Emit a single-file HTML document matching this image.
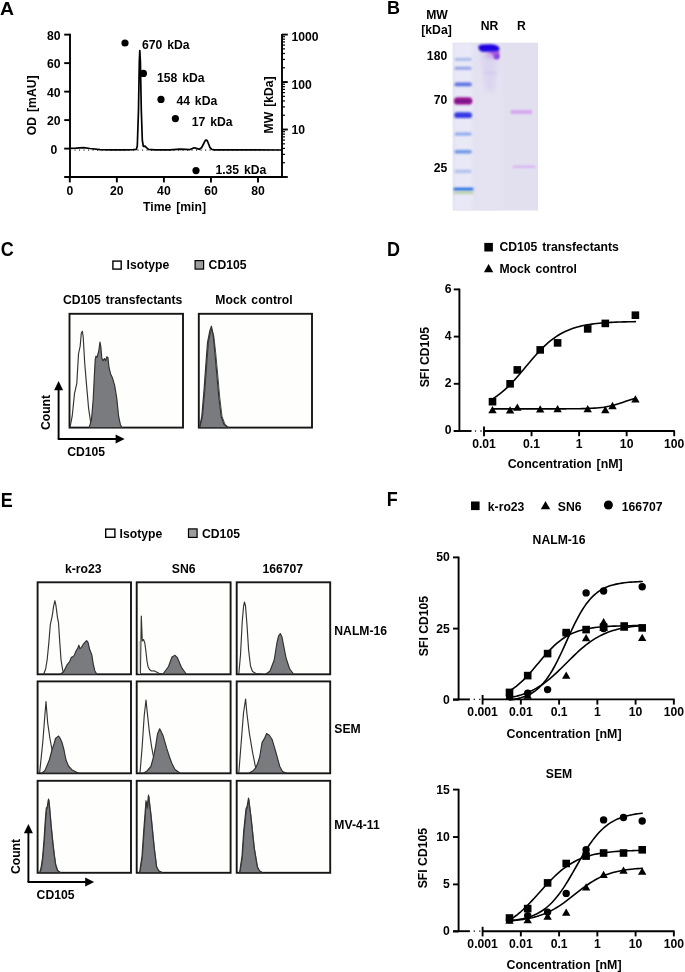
<!DOCTYPE html>
<html><head><meta charset="utf-8"><style>
html,body{margin:0;padding:0;background:#fff;}
svg{display:block;will-change:transform;}
text{font-family:"Liberation Sans",sans-serif;font-weight:bold;fill:#000;word-spacing:1.5px;}
</style></head><body>
<svg width="685" height="972" viewBox="0 0 685 972">
<defs>
<filter id="b1" x="-20%" y="-150%" width="140%" height="400%"><feGaussianBlur stdDeviation="0.85"/></filter>
<clipPath id="gelclip"><rect x="452.5" y="42.4" width="85.5" height="168.3"/></clipPath>
<filter id="b2" x="-20%" y="-20%" width="140%" height="140%"><feGaussianBlur stdDeviation="2"/></filter>
<filter id="b3" x="-50%" y="-20%" width="200%" height="140%"><feGaussianBlur stdDeviation="2.5"/></filter>
</defs>
<rect width="685" height="972" fill="#fff"/>
<text transform="translate(0.1 14.7) scale(1.08 1.0)" font-size="18">A</text>
<line x1="70.00" y1="33.84" x2="70.00" y2="177.80" stroke="#000" stroke-width="1.9" />
<line x1="64.20" y1="34.64" x2="70.00" y2="34.64" stroke="#000" stroke-width="1.9" />
<text transform="translate(60.60 39.74) scale(1 1.04)" text-anchor="end" font-size="12.2" >80</text>
<line x1="64.20" y1="63.13" x2="70.00" y2="63.13" stroke="#000" stroke-width="1.9" />
<text transform="translate(60.60 68.23) scale(1 1.04)" text-anchor="end" font-size="12.2" >60</text>
<line x1="64.20" y1="91.62" x2="70.00" y2="91.62" stroke="#000" stroke-width="1.9" />
<text transform="translate(60.60 96.72) scale(1 1.04)" text-anchor="end" font-size="12.2" >40</text>
<line x1="64.20" y1="120.11" x2="70.00" y2="120.11" stroke="#000" stroke-width="1.9" />
<text transform="translate(60.60 125.21) scale(1 1.04)" text-anchor="end" font-size="12.2" >20</text>
<line x1="64.20" y1="148.60" x2="70.00" y2="148.60" stroke="#000" stroke-width="1.9" />
<text transform="translate(57.20 153.70) scale(1 1.04)" text-anchor="end" font-size="12.2" >0</text>
<line x1="64.20" y1="177.00" x2="282.80" y2="177.00" stroke="#000" stroke-width="1.9" />
<line x1="69.80" y1="177.00" x2="69.80" y2="182.40" stroke="#000" stroke-width="1.9" />
<text transform="translate(69.80 195.30) scale(1 1.04)" text-anchor="middle" font-size="12.2" >0</text>
<line x1="116.85" y1="177.00" x2="116.85" y2="182.40" stroke="#000" stroke-width="1.9" />
<text transform="translate(116.85 195.30) scale(1 1.04)" text-anchor="middle" font-size="12.2" >20</text>
<line x1="163.90" y1="177.00" x2="163.90" y2="182.40" stroke="#000" stroke-width="1.9" />
<text transform="translate(163.90 195.30) scale(1 1.04)" text-anchor="middle" font-size="12.2" >40</text>
<line x1="210.95" y1="177.00" x2="210.95" y2="182.40" stroke="#000" stroke-width="1.9" />
<text transform="translate(210.95 195.30) scale(1 1.04)" text-anchor="middle" font-size="12.2" >60</text>
<line x1="258.00" y1="177.00" x2="258.00" y2="182.40" stroke="#000" stroke-width="1.9" />
<text transform="translate(258.00 195.30) scale(1 1.04)" text-anchor="middle" font-size="12.2" >80</text>
<text transform="translate(174.50 211.00) scale(1 1.04)" text-anchor="middle" font-size="12.2" >Time [min]</text>
<text transform="translate(36.40 105.30) rotate(-90) scale(1 1.04)" text-anchor="middle" font-size="12.2">OD [mAU]</text>
<line x1="282.00" y1="34.00" x2="282.00" y2="177.80" stroke="#000" stroke-width="1.9" />
<line x1="282.00" y1="162.71" x2="285.00" y2="162.71" stroke="#000" stroke-width="1.2" />
<line x1="282.00" y1="154.35" x2="285.00" y2="154.35" stroke="#000" stroke-width="1.2" />
<line x1="282.00" y1="148.42" x2="285.00" y2="148.42" stroke="#000" stroke-width="1.2" />
<line x1="282.00" y1="143.82" x2="285.00" y2="143.82" stroke="#000" stroke-width="1.2" />
<line x1="282.00" y1="140.06" x2="285.00" y2="140.06" stroke="#000" stroke-width="1.2" />
<line x1="282.00" y1="136.88" x2="285.00" y2="136.88" stroke="#000" stroke-width="1.2" />
<line x1="282.00" y1="134.13" x2="285.00" y2="134.13" stroke="#000" stroke-width="1.2" />
<line x1="282.00" y1="131.70" x2="285.00" y2="131.70" stroke="#000" stroke-width="1.2" />
<line x1="282.00" y1="115.24" x2="285.00" y2="115.24" stroke="#000" stroke-width="1.2" />
<line x1="282.00" y1="106.88" x2="285.00" y2="106.88" stroke="#000" stroke-width="1.2" />
<line x1="282.00" y1="100.95" x2="285.00" y2="100.95" stroke="#000" stroke-width="1.2" />
<line x1="282.00" y1="96.35" x2="285.00" y2="96.35" stroke="#000" stroke-width="1.2" />
<line x1="282.00" y1="92.59" x2="285.00" y2="92.59" stroke="#000" stroke-width="1.2" />
<line x1="282.00" y1="89.41" x2="285.00" y2="89.41" stroke="#000" stroke-width="1.2" />
<line x1="282.00" y1="86.66" x2="285.00" y2="86.66" stroke="#000" stroke-width="1.2" />
<line x1="282.00" y1="84.23" x2="285.00" y2="84.23" stroke="#000" stroke-width="1.2" />
<line x1="282.00" y1="67.77" x2="285.00" y2="67.77" stroke="#000" stroke-width="1.2" />
<line x1="282.00" y1="59.41" x2="285.00" y2="59.41" stroke="#000" stroke-width="1.2" />
<line x1="282.00" y1="53.48" x2="285.00" y2="53.48" stroke="#000" stroke-width="1.2" />
<line x1="282.00" y1="48.88" x2="285.00" y2="48.88" stroke="#000" stroke-width="1.2" />
<line x1="282.00" y1="45.12" x2="285.00" y2="45.12" stroke="#000" stroke-width="1.2" />
<line x1="282.00" y1="41.94" x2="285.00" y2="41.94" stroke="#000" stroke-width="1.2" />
<line x1="282.00" y1="39.19" x2="285.00" y2="39.19" stroke="#000" stroke-width="1.2" />
<line x1="282.00" y1="36.76" x2="285.00" y2="36.76" stroke="#000" stroke-width="1.2" />
<line x1="282.00" y1="177.00" x2="287.80" y2="177.00" stroke="#000" stroke-width="1.9" />
<line x1="282.00" y1="129.53" x2="287.80" y2="129.53" stroke="#000" stroke-width="1.9" />
<text transform="translate(291.40 133.90) scale(1 1.04)" text-anchor="start" font-size="12.2" >10</text>
<line x1="282.00" y1="82.06" x2="287.80" y2="82.06" stroke="#000" stroke-width="1.9" />
<text transform="translate(291.40 89.00) scale(1 1.04)" text-anchor="start" font-size="12.2" >100</text>
<line x1="282.00" y1="34.59" x2="287.80" y2="34.59" stroke="#000" stroke-width="1.9" />
<text transform="translate(291.40 41.40) scale(1 1.04)" text-anchor="start" font-size="12.2" >1000</text>
<text transform="translate(272.60 104.90) rotate(-90) scale(1 1.04)" text-anchor="middle" font-size="12.2">MW [kDa]</text>
<line x1="70.00" y1="150.10" x2="282.00" y2="150.10" stroke="#333" stroke-width="1.2" stroke-dasharray="1.1 3.4"/>
<path d="M70.00,148.30 L76.00,148.20 L83.70,147.60 L90.00,148.50 L100.00,149.60 L110.00,149.90 L125.00,149.90 L133.00,149.70 L136.40,149.30 L137.30,146.00 L138.50,110.00 L139.30,62.00 L139.80,50.60 L140.40,62.00 L141.30,110.00 L142.30,140.00 L143.30,146.30 L145.00,146.20 L146.50,147.60 L148.50,149.30 L155.00,149.90 L170.00,149.90 L180.00,149.20 L186.00,149.40 L190.00,149.60 L192.50,148.40 L194.50,147.80 L197.00,148.60 L199.30,149.30 L201.50,147.80 L203.50,144.00 L205.20,140.60 L206.20,140.00 L207.30,140.80 L208.60,144.00 L210.00,147.60 L211.50,149.20 L214.00,149.90 L282.00,150.00" stroke="#000" stroke-width="1.7" fill="none" stroke-linejoin="round"/>
<circle cx="125.00" cy="43.00" r="3.6" fill="#000"/>
<text transform="translate(142.00 48.60) scale(1 1.04)" text-anchor="start" font-size="12.2" >670 kDa</text>
<circle cx="143.40" cy="73.40" r="3.6" fill="#000"/>
<text transform="translate(157.00 82.00) scale(1 1.04)" text-anchor="start" font-size="12.2" >158 kDa</text>
<circle cx="161.00" cy="99.40" r="3.6" fill="#000"/>
<text transform="translate(176.40 104.50) scale(1 1.04)" text-anchor="start" font-size="12.2" >44 kDa</text>
<circle cx="175.40" cy="118.60" r="3.6" fill="#000"/>
<text transform="translate(191.80 125.50) scale(1 1.04)" text-anchor="start" font-size="12.2" >17 kDa</text>
<circle cx="196.00" cy="170.60" r="3.6" fill="#000"/>
<text transform="translate(215.40 174.00) scale(1 1.04)" text-anchor="start" font-size="12.2" >1.35 kDa</text>
<text transform="translate(386.90 13.90) scale(1 1.03)" text-anchor="start" font-size="18" >B</text>
<text transform="translate(437.00 19.00) scale(1 1.04)" text-anchor="middle" font-size="12.2" >MW</text>
<text transform="translate(436.50 34.40) scale(1 1.04)" text-anchor="middle" font-size="12.2" >[kDa]</text>
<text transform="translate(489.60 30.00) scale(1 1.04)" text-anchor="middle" font-size="12.2" >NR</text>
<text transform="translate(521.40 30.00) scale(1 1.04)" text-anchor="middle" font-size="12.2" >R</text>
<text transform="translate(447.20 60.00) scale(1 1.04)" text-anchor="end" font-size="12.2" >180</text>
<text transform="translate(447.20 104.40) scale(1 1.04)" text-anchor="end" font-size="12.2" >70</text>
<text transform="translate(447.20 171.60) scale(1 1.04)" text-anchor="end" font-size="12.2" >25</text>
<g clip-path="url(#gelclip)"><rect x="452.5" y="42.4" width="85.5" height="168.3" fill="#e2e0ef"/><rect x="453.5" y="42.4" width="20" height="168.3" fill="#e8e8f6" filter="url(#b2)"/><rect x="476" y="42.4" width="26" height="168.3" fill="#e5e3f1" filter="url(#b2)"/><rect x="454.8" y="57.90" width="16.80000000000001" height="2.8" rx="1.40" fill="#a6b8ea" opacity="1" filter="url(#b1)"/><rect x="454.6" y="66.65" width="17.0" height="3.1" rx="1.55" fill="#94a2e6" opacity="1" filter="url(#b1)"/><rect x="454.4" y="82.50" width="17.400000000000034" height="3.8" rx="1.90" fill="#5b6fe2" opacity="1" filter="url(#b1)"/><rect x="454.0" y="97.20" width="18.19999999999999" height="7.4" rx="3.70" fill="#a01a98" opacity="1" filter="url(#b1)"/><rect x="455.0" y="99.60" width="16.399999999999977" height="3.2" rx="1.60" fill="#7c1086" opacity="1" filter="url(#b1)"/><rect x="454.2" y="112.30" width="17.80000000000001" height="5.8" rx="2.90" fill="#3438e4" opacity="1" filter="url(#b1)"/><rect x="454.6" y="132.40" width="17.0" height="3.0" rx="1.50" fill="#8aa8ec" opacity="1" filter="url(#b1)"/><rect x="454.4" y="150.10" width="17.400000000000034" height="3.4" rx="1.70" fill="#6c94e8" opacity="1" filter="url(#b1)"/><rect x="454.6" y="169.80" width="17.0" height="3.2" rx="1.60" fill="#b0c0ee" opacity="1" filter="url(#b1)"/><rect x="453.4" y="187.80" width="20.0" height="2.8" rx="1.40" fill="#1866e2" opacity="1" filter="url(#b1)"/><rect x="453.4" y="191.60" width="20.0" height="2.2" rx="1.10" fill="#a8c68e" opacity="0.85" filter="url(#b1)"/><ellipse cx="492" cy="54.6" rx="6.5" ry="3.2" fill="#cc86e6" opacity="0.75" filter="url(#b2)"/><path d="M489,51.3 L499,50.8 L499.2,56.5 Q498.5,59 496.2,59 Q493.8,58.6 493.5,56 Q492.5,53.2 489,52.6 Z" fill="#b44ade" filter="url(#b1)"/><ellipse cx="496.4" cy="56.4" rx="2.6" ry="2.5" fill="#8a36dc" filter="url(#b1)"/><ellipse cx="496.8" cy="56.7" rx="1.6" ry="1.6" fill="#5a2ee6" filter="url(#b1)"/><path d="M478.3,47.2 Q478.4,44.6 483,44.5 L490,44.3 Q497.5,44.6 499.3,47.6 L499.2,50.6 Q498,51.8 495,51.7 L484,52.1 Q480.5,51.9 479.4,50.2 Z" fill="#1d02e2" filter="url(#b1)"/><path d="M481,52 L498,52 L498,60 L494,92 L486,92 L481,60 Z" fill="#c4b0ea" opacity="0.28" filter="url(#b3)"/><rect x="483" y="72.20" width="14" height="1.2" rx="0.60" fill="#cdb6ea" opacity="0.55" filter="url(#b1)"/><rect x="510.2" y="110.20" width="22.19999999999999" height="3.6" rx="1.80" fill="#d6a2ec" opacity="1" filter="url(#b1)"/><rect x="512.6" y="165.50" width="23.0" height="2.6" rx="1.30" fill="#d9b2f2" opacity="1" filter="url(#b1)"/></g>
<text transform="translate(0.80 255.50) scale(1 1.09)" text-anchor="start" font-size="18" >C</text>
<rect x="112.9" y="261.1" width="8.3" height="8.0" fill="#fff" stroke="#000" stroke-width="1.4"/>
<text transform="translate(126.60 269.00) scale(1 1.04)" text-anchor="start" font-size="12.2" >Isotype</text>
<rect x="195.1" y="260.6" width="8.5" height="8.5" fill="#9d9d9d" stroke="#000" stroke-width="1.2"/>
<text transform="translate(208.60 269.00) scale(1 1.04)" text-anchor="start" font-size="12.2" >CD105</text>
<text transform="translate(62.90 304.00) scale(1 1.04)" text-anchor="start" font-size="12.2" >CD105 transfectants</text>
<text transform="translate(215.30 303.50) scale(1 1.04)" text-anchor="start" font-size="12.2" >Mock control</text>
<rect x="69.50" y="313.80" width="113.50" height="113.80" fill="#fefefc" stroke="#161616" stroke-width="1.9"/>
<rect x="198.80" y="313.80" width="113.20" height="113.80" fill="#fefefc" stroke="#161616" stroke-width="1.9"/>
<path d="M70.00,427.50 L72.20,416.20 L74.50,393.60 L76.80,383.40 L78.50,354.00 L80.20,346.00 L81.30,333.00 L82.40,331.30 L83.20,337.00 L84.70,363.00 L86.40,383.40 L88.60,408.30 L90.30,419.60 L91.50,427.50" stroke="#333" stroke-width="1.15" fill="none" stroke-linejoin="round"/>
<path d="M89.20,427.50 L91.50,419.60 L93.20,399.20 L94.30,376.60 L95.20,359.60 L96.00,356.20 L97.10,357.40 L98.80,350.60 L100.00,342.00 L100.90,347.20 L101.70,357.40 L102.80,360.80 L104.50,358.50 L105.60,360.80 L106.80,356.80 L107.90,357.40 L109.00,367.50 L110.70,374.30 L112.40,377.70 L114.70,385.70 L116.90,399.20 L118.60,416.20 L120.30,424.20 L121.70,427.50 Z" stroke="#303030" stroke-width="1.15" fill="#7a7b7e" stroke-linejoin="round"/>
<path d="M199.50,427.60 L201.80,416.30 L204.00,390.30 L206.30,358.50 L207.50,342.70 L209.70,331.30 L211.40,326.20 L213.10,334.70 L214.80,351.70 L216.50,371.00 L218.80,397.00 L221.10,416.30 L223.90,424.20 L227.90,427.60 Z" stroke="#303030" stroke-width="1.15" fill="#7a7b7e" stroke-linejoin="round"/>
<path d="M199.80,427.60 L202.60,416.30 L204.90,390.30 L207.20,358.50 L208.40,343.50 L210.40,333.00 L211.90,329.50 L213.80,336.00 L215.70,352.70 L217.40,371.00 L219.70,397.00 L222.00,416.30 L225.00,424.40 L229.00,427.60" stroke="#333" stroke-width="0.9" fill="none" stroke-linejoin="round"/>
<line x1="58.60" y1="439.00" x2="58.60" y2="389.80" stroke="#000" stroke-width="1.9" />
<path d="M54.10,390.30 L63.10,390.30 L58.60,381.10 Z" fill="#000"/>
<line x1="57.80" y1="439.00" x2="116.10" y2="439.00" stroke="#000" stroke-width="1.9" />
<path d="M115.60,434.50 L115.60,443.50 L124.60,439.00 Z" fill="#000"/>
<text transform="translate(50.40 412.50) rotate(-90) scale(1 1.04)" text-anchor="middle" font-size="12.2">Count</text>
<text transform="translate(67.20 455.60) scale(1 1.04)" text-anchor="start" font-size="12.2" >CD105</text>
<text transform="translate(386.90 255.50) scale(1 1.09)" text-anchor="start" font-size="18" >D</text>
<rect x="484.30" y="242.90" width="8.6" height="8.6" fill="#000"/>
<text transform="translate(499.40 251.40) scale(1 1.04)" text-anchor="start" font-size="12.2" >CD105 transfectants</text>
<path d="M483.90,272.29 L493.30,272.29 L488.60,264.11 Z" fill="#000"/>
<text transform="translate(499.40 272.50) scale(1 1.04)" text-anchor="start" font-size="12.2" >Mock control</text>
<line x1="459.40" y1="288.60" x2="459.40" y2="431.80" stroke="#000" stroke-width="1.9" />
<line x1="453.80" y1="289.40" x2="459.40" y2="289.40" stroke="#000" stroke-width="1.9" />
<text transform="translate(451.60 292.50) scale(1 1.04)" text-anchor="end" font-size="12.2" >6</text>
<line x1="453.80" y1="336.60" x2="459.40" y2="336.60" stroke="#000" stroke-width="1.9" />
<text transform="translate(451.60 339.70) scale(1 1.04)" text-anchor="end" font-size="12.2" >4</text>
<line x1="453.80" y1="383.80" x2="459.40" y2="383.80" stroke="#000" stroke-width="1.9" />
<text transform="translate(451.60 386.90) scale(1 1.04)" text-anchor="end" font-size="12.2" >2</text>
<line x1="453.80" y1="431.00" x2="459.40" y2="431.00" stroke="#000" stroke-width="1.9" />
<text transform="translate(451.60 434.10) scale(1 1.04)" text-anchor="end" font-size="12.2" >0</text>
<text transform="translate(428.90 357.20) rotate(-90) scale(1 1.04)" text-anchor="middle" font-size="12.2" style="word-spacing:0px">SFI CD105</text>
<line x1="453.80" y1="431.00" x2="471.50" y2="431.00" stroke="#000" stroke-width="1.9" />
<line x1="474.90" y1="431.00" x2="476.10" y2="431.00" stroke="#000" stroke-width="1.3" />
<line x1="480.40" y1="431.00" x2="481.60" y2="431.00" stroke="#000" stroke-width="1.3" />
<line x1="484.00" y1="431.00" x2="674.80" y2="431.00" stroke="#000" stroke-width="1.9" />
<line x1="484.00" y1="426.60" x2="484.00" y2="436.20" stroke="#000" stroke-width="1.9" />
<text transform="translate(484.00 448.10) scale(1 1.04)" text-anchor="middle" font-size="12.2" >0.01</text>
<line x1="531.55" y1="431.00" x2="531.55" y2="436.20" stroke="#000" stroke-width="1.9" />
<text transform="translate(531.55 448.10) scale(1 1.04)" text-anchor="middle" font-size="12.2" >0.1</text>
<line x1="579.10" y1="431.00" x2="579.10" y2="436.20" stroke="#000" stroke-width="1.9" />
<text transform="translate(579.10 448.10) scale(1 1.04)" text-anchor="middle" font-size="12.2" >1</text>
<line x1="626.65" y1="431.00" x2="626.65" y2="436.20" stroke="#000" stroke-width="1.9" />
<text transform="translate(626.65 448.10) scale(1 1.04)" text-anchor="middle" font-size="12.2" >10</text>
<line x1="674.20" y1="431.00" x2="674.20" y2="436.20" stroke="#000" stroke-width="1.9" />
<text transform="translate(674.20 448.10) scale(1 1.04)" text-anchor="middle" font-size="12.2" >100</text>
<text transform="translate(565.20 468.40) scale(1 1.04)" text-anchor="middle" font-size="12.4" >Concentration [nM]</text>
<path d="M492.50,398.93 L494.92,397.40 L497.34,395.73 L499.77,393.92 L502.19,391.96 L504.61,389.87 L507.03,387.64 L509.45,385.27 L511.88,382.78 L514.30,380.18 L516.72,377.48 L519.14,374.69 L521.56,371.85 L523.99,368.97 L526.41,366.07 L528.83,363.17 L531.25,360.31 L533.67,357.50 L536.10,354.76 L538.52,352.12 L540.94,349.58 L543.36,347.16 L545.78,344.87 L548.21,342.72 L550.63,340.70 L553.05,338.84 L555.47,337.11 L557.89,335.52 L560.32,334.06 L562.74,332.73 L565.16,331.52 L567.58,330.43 L570.01,329.44 L572.43,328.55 L574.85,327.75 L577.27,327.04 L579.69,326.40 L582.12,325.82 L584.54,325.31 L586.96,324.86 L589.38,324.46 L591.80,324.10 L594.23,323.78 L596.65,323.50 L599.07,323.25 L601.49,323.03 L603.91,322.83 L606.34,322.66 L608.76,322.51 L611.18,322.37 L613.60,322.25 L616.02,322.15 L618.45,322.06 L620.87,321.97 L623.29,321.90 L625.71,321.84 L628.13,321.78 L630.56,321.73 L632.98,321.69 L635.40,321.65" stroke="#000" stroke-width="1.6" fill="none" stroke-linejoin="round" stroke-linecap="round"/>
<path d="M492.50,408.88 L494.92,408.88 L497.34,408.88 L499.77,408.88 L502.19,408.88 L504.61,408.88 L507.03,408.88 L509.45,408.88 L511.88,408.88 L514.30,408.88 L516.72,408.88 L519.14,408.88 L521.56,408.88 L523.99,408.88 L526.41,408.88 L528.83,408.88 L531.25,408.88 L533.67,408.88 L536.10,408.88 L538.52,408.87 L540.94,408.87 L543.36,408.87 L545.78,408.87 L548.21,408.87 L550.63,408.87 L553.05,408.86 L555.47,408.86 L557.89,408.86 L560.32,408.85 L562.74,408.84 L565.16,408.83 L567.58,408.82 L570.01,408.81 L572.43,408.79 L574.85,408.76 L577.27,408.73 L579.69,408.70 L582.12,408.65 L584.54,408.59 L586.96,408.51 L589.38,408.42 L591.80,408.30 L594.23,408.16 L596.65,407.98 L599.07,407.76 L601.49,407.49 L603.91,407.17 L606.34,406.78 L608.76,406.33 L611.18,405.80 L613.60,405.19 L616.02,404.51 L618.45,403.77 L620.87,402.98 L623.29,402.16 L625.71,401.32 L628.13,400.50 L630.56,399.71 L632.98,398.97 L635.40,398.30" stroke="#000" stroke-width="1.6" fill="none" stroke-linejoin="round" stroke-linecap="round"/>
<rect x="488.70" y="397.90" width="7.6" height="7.6" fill="#000"/>
<rect x="506.30" y="380.00" width="7.6" height="7.6" fill="#000"/>
<rect x="513.50" y="366.10" width="7.6" height="7.6" fill="#000"/>
<rect x="536.40" y="346.10" width="7.6" height="7.6" fill="#000"/>
<rect x="553.80" y="339.10" width="7.6" height="7.6" fill="#000"/>
<rect x="583.90" y="325.10" width="7.6" height="7.6" fill="#000"/>
<rect x="601.50" y="319.60" width="7.6" height="7.6" fill="#000"/>
<rect x="631.60" y="311.40" width="7.6" height="7.6" fill="#000"/>
<path d="M488.30,413.25 L496.70,413.25 L492.50,405.95 Z" fill="#000"/>
<path d="M505.90,413.45 L514.30,413.45 L510.10,406.15 Z" fill="#000"/>
<path d="M513.10,410.85 L521.50,410.85 L517.30,403.55 Z" fill="#000"/>
<path d="M536.00,412.55 L544.40,412.55 L540.20,405.25 Z" fill="#000"/>
<path d="M553.40,412.25 L561.80,412.25 L557.60,404.95 Z" fill="#000"/>
<path d="M583.50,412.25 L591.90,412.25 L587.70,404.95 Z" fill="#000"/>
<path d="M601.10,413.25 L609.50,413.25 L605.30,405.95 Z" fill="#000"/>
<path d="M608.30,409.15 L616.70,409.15 L612.50,401.85 Z" fill="#000"/>
<path d="M631.20,402.45 L639.60,402.45 L635.40,395.15 Z" fill="#000"/>
<text transform="translate(0.70 506.80) scale(1 1.09)" text-anchor="start" font-size="18" >E</text>
<rect x="105.7" y="529.1" width="9.2" height="8.2" fill="#fff" stroke="#000" stroke-width="1.4"/>
<text transform="translate(119.60 537.60) scale(1 1.04)" text-anchor="start" font-size="12.2" >Isotype</text>
<rect x="188.5" y="528.9" width="8.6" height="8.5" fill="#9d9d9d" stroke="#000" stroke-width="1.2"/>
<text transform="translate(202.00 537.60) scale(1 1.04)" text-anchor="start" font-size="12.2" >CD105</text>
<text transform="translate(83.20 573.00) scale(1 1.04)" text-anchor="middle" font-size="12.2" >k-ro23</text>
<text transform="translate(183.60 573.00) scale(1 1.04)" text-anchor="middle" font-size="12.2" >SN6</text>
<text transform="translate(282.80 573.00) scale(1 1.04)" text-anchor="middle" font-size="12.2" >166707</text>
<rect x="37.60" y="582.30" width="93.40" height="92.00" fill="#fefefc" stroke="#161616" stroke-width="1.9"/>
<rect x="37.60" y="681.40" width="93.40" height="91.90" fill="#fefefc" stroke="#161616" stroke-width="1.9"/>
<rect x="37.60" y="780.80" width="93.40" height="92.00" fill="#fefefc" stroke="#161616" stroke-width="1.9"/>
<rect x="136.70" y="582.30" width="93.90" height="92.00" fill="#fefefc" stroke="#161616" stroke-width="1.9"/>
<rect x="136.70" y="681.40" width="93.90" height="91.90" fill="#fefefc" stroke="#161616" stroke-width="1.9"/>
<rect x="136.70" y="780.80" width="93.90" height="92.00" fill="#fefefc" stroke="#161616" stroke-width="1.9"/>
<rect x="236.70" y="582.30" width="93.50" height="92.00" fill="#fefefc" stroke="#161616" stroke-width="1.9"/>
<rect x="236.70" y="681.40" width="93.50" height="91.90" fill="#fefefc" stroke="#161616" stroke-width="1.9"/>
<rect x="236.70" y="780.80" width="93.50" height="92.00" fill="#fefefc" stroke="#161616" stroke-width="1.9"/>
<text transform="translate(334.30 634.80) scale(1 1.04)" text-anchor="start" font-size="12.2" >NALM-16</text>
<text transform="translate(334.30 733.00) scale(1 1.04)" text-anchor="start" font-size="12.2" >SEM</text>
<text transform="translate(334.30 829.00) scale(1 1.04)" text-anchor="start" font-size="12.2" >MV-4-11</text>
<path d="M43.70,674.30 L45.70,668.70 L47.20,659.50 L48.80,643.10 L50.30,624.70 L52.10,616.60 L53.60,606.40 L54.90,600.70 L55.90,605.30 L57.50,617.60 L58.50,622.70 L59.70,641.10 L61.00,659.50 L62.60,669.70 L64.10,674.30" stroke="#333" stroke-width="1.15" fill="none" stroke-linejoin="round"/>
<path d="M60.50,674.30 L63.60,671.70 L65.60,667.70 L67.20,664.60 L69.70,661.50 L71.30,657.40 L72.80,656.90 L74.30,655.40 L75.90,651.30 L77.90,647.70 L78.90,645.20 L79.90,648.80 L81.50,647.20 L83.00,644.70 L85.10,642.10 L86.60,640.60 L88.10,642.60 L89.60,649.30 L91.70,654.40 L93.20,663.60 L94.80,670.70 L96.80,674.30 Z" stroke="#303030" stroke-width="1.15" fill="#7a7b7e" stroke-linejoin="round"/>
<path d="M140.40,674.30 L141.30,616.00 L142.30,641.00 L143.50,639.50 L144.80,643.00 L146.00,652.00 L147.00,661.00 L148.00,666.50 L149.50,669.50 L151.50,671.00 L154.00,670.80 L156.00,671.80 L159.00,673.20 L163.00,674.30" stroke="#333" stroke-width="1.15" fill="none" stroke-linejoin="round"/>
<path d="M163.00,674.00 L168.50,666.50 L172.00,657.00 L175.00,655.30 L177.40,657.70 L181.40,667.30 L186.20,674.00 Z" stroke="#303030" stroke-width="1.15" fill="#7a7b7e" stroke-linejoin="round"/>
<path d="M238.80,674.00 L240.50,655.00 L242.20,622.00 L243.60,606.00 L244.50,602.00 L245.50,606.00 L247.00,625.00 L248.60,650.00 L250.50,666.00 L252.50,671.50 L256.00,673.50 L262.00,674.00" stroke="#333" stroke-width="1.15" fill="none" stroke-linejoin="round"/>
<path d="M266.00,674.00 L270.00,671.00 L274.20,660.00 L276.90,643.00 L278.60,636.00 L280.30,633.60 L282.00,637.00 L283.00,642.40 L286.20,658.50 L289.50,668.50 L293.40,674.00 Z" stroke="#303030" stroke-width="1.15" fill="#7a7b7e" stroke-linejoin="round"/>
<path d="M39.60,773.00 L42.80,742.00 L44.50,720.00 L46.00,701.50 L47.70,723.00 L50.00,739.00 L52.50,752.00 L55.00,763.00 L58.00,773.00" stroke="#333" stroke-width="1.15" fill="none" stroke-linejoin="round"/>
<path d="M42.00,773.00 L45.00,770.50 L49.30,760.00 L52.00,750.00 L54.00,744.00 L55.50,738.50 L56.50,737.60 L58.60,736.00 L60.00,738.00 L62.00,742.40 L64.00,750.00 L66.00,760.00 L68.50,766.00 L71.80,769.70 L78.20,773.00 Z" stroke="#303030" stroke-width="1.15" fill="#7a7b7e" stroke-linejoin="round"/>
<path d="M140.00,773.00 L142.00,749.00 L144.20,716.00 L146.00,700.00 L147.30,712.70 L149.30,731.20 L151.70,747.30 L153.80,758.50 L156.00,766.00 L159.00,773.00" stroke="#333" stroke-width="1.15" fill="none" stroke-linejoin="round"/>
<path d="M143.70,773.00 L147.00,771.00 L150.90,766.50 L153.50,757.00 L155.70,745.70 L157.50,734.00 L159.70,728.80 L162.90,735.20 L166.90,748.90 L169.50,757.00 L171.80,763.30 L175.00,769.50 L179.80,773.00 Z" stroke="#303030" stroke-width="1.15" fill="#7a7b7e" stroke-linejoin="round"/>
<path d="M238.80,773.00 L241.00,745.00 L243.50,713.00 L245.60,699.00 L246.90,713.50 L249.30,732.80 L252.50,752.00 L255.70,768.00 L258.00,773.00" stroke="#333" stroke-width="1.15" fill="none" stroke-linejoin="round"/>
<path d="M249.30,773.00 L253.00,770.80 L255.70,768.00 L257.80,763.00 L259.70,757.00 L261.00,749.00 L262.10,742.40 L264.50,738.40 L266.60,733.60 L269.30,735.20 L272.00,739.20 L275.80,752.00 L279.80,766.50 L282.50,771.50 L286.20,773.00 Z" stroke="#303030" stroke-width="1.15" fill="#7a7b7e" stroke-linejoin="round"/>
<path d="M39.60,872.60 L41.00,868.00 L42.50,858.00 L44.00,840.00 L45.30,820.00 L46.30,808.00 L47.30,806.50 L48.10,801.00 L48.60,799.00 L49.20,804.00 L49.80,811.00 L51.00,825.00 L52.50,840.00 L54.00,853.00 L55.50,864.00 L57.50,870.50 L60.50,872.60 Z" stroke="#303030" stroke-width="1.15" fill="#7a7b7e" stroke-linejoin="round"/>
<path d="M40.00,872.60 L41.40,869.50 L42.90,859.50 L44.40,841.50 L45.70,821.50 L46.70,809.50 L47.70,808.00 L48.50,802.50 L49.00,800.50 L49.60,805.50 L50.20,812.50 L51.40,826.50 L52.90,841.50 L54.40,854.50 L55.90,865.50 L57.90,870.50 L60.90,872.60" stroke="#333" stroke-width="0.8" fill="none" stroke-linejoin="round"/>
<path d="M139.60,872.60 L142.00,856.00 L143.70,831.20 L146.00,800.70 L147.20,807.00 L148.50,795.00 L150.90,815.00 L154.10,847.30 L156.50,866.50 L158.80,871.00 L162.10,872.60 Z" stroke="#303030" stroke-width="1.15" fill="#7a7b7e" stroke-linejoin="round"/>
<path d="M140.00,872.60 L142.40,857.50 L144.10,832.70 L146.40,802.20 L147.60,808.50 L148.90,796.50 L151.30,816.50 L154.50,848.80 L156.90,868.00 L159.20,871.00 L162.50,872.60" stroke="#333" stroke-width="0.8" fill="none" stroke-linejoin="round"/>
<path d="M239.60,872.60 L242.00,856.00 L243.70,831.20 L246.00,808.70 L247.20,806.00 L248.50,798.00 L250.90,816.80 L254.10,847.30 L257.30,866.50 L259.50,871.00 L262.10,872.60 Z" stroke="#303030" stroke-width="1.15" fill="#7a7b7e" stroke-linejoin="round"/>
<path d="M240.00,872.60 L242.40,857.50 L244.10,832.70 L246.40,810.20 L247.60,807.50 L248.90,799.50 L251.30,818.30 L254.50,848.80 L257.70,868.00 L259.90,871.00 L262.50,872.60" stroke="#333" stroke-width="0.8" fill="none" stroke-linejoin="round"/>
<rect x="138.4" y="641" width="1.7" height="33" fill="#d4d4d4"/>
<line x1="28.40" y1="882.00" x2="28.40" y2="832.70" stroke="#000" stroke-width="1.9" />
<path d="M23.90,833.20 L32.90,833.20 L28.40,824.00 Z" fill="#000"/>
<line x1="27.60" y1="882.00" x2="85.70" y2="882.00" stroke="#000" stroke-width="1.9" />
<path d="M85.20,877.50 L85.20,886.50 L94.20,882.00 Z" fill="#000"/>
<text transform="translate(19.50 856.50) rotate(-90) scale(1 1.04)" text-anchor="middle" font-size="12.2">Count</text>
<text transform="translate(36.60 899.40) scale(1 1.04)" text-anchor="start" font-size="12.2" >CD105</text>
<text transform="translate(386.70 506.40) scale(1 1.09)" text-anchor="start" font-size="18" >F</text>
<rect x="471.00" y="501.50" width="8.6" height="8.6" fill="#000"/>
<text transform="translate(487.80 511.00) scale(1 1.04)" text-anchor="start" font-size="12.2" >k-ro23</text>
<path d="M540.80,509.29 L550.20,509.29 L545.50,501.11 Z" fill="#000"/>
<text transform="translate(557.80 511.00) scale(1 1.04)" text-anchor="start" font-size="12.2" >SN6</text>
<circle cx="608.40" cy="505.00" r="4.5" fill="#000"/>
<text transform="translate(621.80 511.00) scale(1 1.04)" text-anchor="start" font-size="12.2" >166707</text>
<line x1="458.60" y1="556.60" x2="458.60" y2="700.20" stroke="#000" stroke-width="1.9" />
<line x1="453.00" y1="557.40" x2="458.60" y2="557.40" stroke="#000" stroke-width="1.9" />
<text transform="translate(449.80 561.30) scale(1 1.04)" text-anchor="end" font-size="12.2" >50</text>
<line x1="453.00" y1="628.60" x2="458.60" y2="628.60" stroke="#000" stroke-width="1.9" />
<text transform="translate(449.80 632.50) scale(1 1.04)" text-anchor="end" font-size="12.2" >25</text>
<line x1="453.00" y1="699.80" x2="458.60" y2="699.80" stroke="#000" stroke-width="1.9" />
<text transform="translate(449.80 703.70) scale(1 1.04)" text-anchor="end" font-size="12.2" >0</text>
<line x1="453.00" y1="699.40" x2="469.90" y2="699.40" stroke="#000" stroke-width="1.9" />
<line x1="473.70" y1="699.40" x2="474.90" y2="699.40" stroke="#000" stroke-width="1.3" />
<line x1="479.20" y1="699.40" x2="480.40" y2="699.40" stroke="#000" stroke-width="1.3" />
<line x1="482.60" y1="699.40" x2="674.60" y2="699.40" stroke="#000" stroke-width="1.9" />
<line x1="482.60" y1="695.00" x2="482.60" y2="704.60" stroke="#000" stroke-width="1.9" />
<text transform="translate(482.60 716.40) scale(1 1.04)" text-anchor="middle" font-size="12.2" >0.001</text>
<line x1="520.85" y1="699.40" x2="520.85" y2="704.60" stroke="#000" stroke-width="1.9" />
<text transform="translate(520.85 716.40) scale(1 1.04)" text-anchor="middle" font-size="12.2" >0.01</text>
<line x1="559.10" y1="699.40" x2="559.10" y2="704.60" stroke="#000" stroke-width="1.9" />
<text transform="translate(559.10 716.40) scale(1 1.04)" text-anchor="middle" font-size="12.2" >0.1</text>
<line x1="597.35" y1="699.40" x2="597.35" y2="704.60" stroke="#000" stroke-width="1.9" />
<text transform="translate(597.35 716.40) scale(1 1.04)" text-anchor="middle" font-size="12.2" >1</text>
<line x1="635.60" y1="699.40" x2="635.60" y2="704.60" stroke="#000" stroke-width="1.9" />
<text transform="translate(635.60 716.40) scale(1 1.04)" text-anchor="middle" font-size="12.2" >10</text>
<line x1="673.85" y1="699.40" x2="673.85" y2="704.60" stroke="#000" stroke-width="1.9" />
<text transform="translate(673.85 716.40) scale(1 1.04)" text-anchor="middle" font-size="12.2" >100</text>
<text transform="translate(564.00 737.60) scale(1 1.04)" text-anchor="middle" font-size="12.4" >Concentration [nM]</text>
<text transform="translate(559.00 544.00) scale(1 1.04)" text-anchor="middle" font-size="12.2" >NALM-16</text>
<text transform="translate(427.80 626.00) rotate(-90) scale(1 1.04)" text-anchor="middle" font-size="12.2" style="word-spacing:0px">SFI CD105</text>
<line x1="458.60" y1="788.80" x2="458.60" y2="932.00" stroke="#000" stroke-width="1.9" />
<line x1="453.00" y1="789.60" x2="458.60" y2="789.60" stroke="#000" stroke-width="1.9" />
<text transform="translate(449.80 793.50) scale(1 1.04)" text-anchor="end" font-size="12.2" >15</text>
<line x1="453.00" y1="837.00" x2="458.60" y2="837.00" stroke="#000" stroke-width="1.9" />
<text transform="translate(449.80 840.90) scale(1 1.04)" text-anchor="end" font-size="12.2" >10</text>
<line x1="453.00" y1="884.40" x2="458.60" y2="884.40" stroke="#000" stroke-width="1.9" />
<text transform="translate(449.80 888.30) scale(1 1.04)" text-anchor="end" font-size="12.2" >5</text>
<line x1="453.00" y1="931.50" x2="458.60" y2="931.50" stroke="#000" stroke-width="1.9" />
<text transform="translate(449.80 935.40) scale(1 1.04)" text-anchor="end" font-size="12.2" >0</text>
<line x1="453.00" y1="931.20" x2="469.90" y2="931.20" stroke="#000" stroke-width="1.9" />
<line x1="473.70" y1="931.20" x2="474.90" y2="931.20" stroke="#000" stroke-width="1.3" />
<line x1="479.20" y1="931.20" x2="480.40" y2="931.20" stroke="#000" stroke-width="1.3" />
<line x1="482.60" y1="931.20" x2="674.60" y2="931.20" stroke="#000" stroke-width="1.9" />
<line x1="482.60" y1="926.80" x2="482.60" y2="936.40" stroke="#000" stroke-width="1.9" />
<text transform="translate(482.60 948.40) scale(1 1.04)" text-anchor="middle" font-size="12.2" >0.001</text>
<line x1="520.85" y1="931.20" x2="520.85" y2="936.40" stroke="#000" stroke-width="1.9" />
<text transform="translate(520.85 948.40) scale(1 1.04)" text-anchor="middle" font-size="12.2" >0.01</text>
<line x1="559.10" y1="931.20" x2="559.10" y2="936.40" stroke="#000" stroke-width="1.9" />
<text transform="translate(559.10 948.40) scale(1 1.04)" text-anchor="middle" font-size="12.2" >0.1</text>
<line x1="597.35" y1="931.20" x2="597.35" y2="936.40" stroke="#000" stroke-width="1.9" />
<text transform="translate(597.35 948.40) scale(1 1.04)" text-anchor="middle" font-size="12.2" >1</text>
<line x1="635.60" y1="931.20" x2="635.60" y2="936.40" stroke="#000" stroke-width="1.9" />
<text transform="translate(635.60 948.40) scale(1 1.04)" text-anchor="middle" font-size="12.2" >10</text>
<line x1="673.85" y1="931.20" x2="673.85" y2="936.40" stroke="#000" stroke-width="1.9" />
<text transform="translate(673.85 948.40) scale(1 1.04)" text-anchor="middle" font-size="12.2" >100</text>
<text transform="translate(564.00 968.90) scale(1 1.04)" text-anchor="middle" font-size="12.4" >Concentration [nM]</text>
<text transform="translate(559.00 778.30) scale(1 1.04)" text-anchor="middle" font-size="12.2" >SEM</text>
<text transform="translate(427.30 858.10) rotate(-90) scale(1 1.04)" text-anchor="middle" font-size="12.2" style="word-spacing:0px">SFI CD105</text>
<path d="M509.50,690.92 L511.75,689.52 L514.00,687.97 L516.25,686.29 L518.50,684.45 L520.75,682.47 L522.99,680.35 L525.24,678.10 L527.49,675.73 L529.74,673.24 L531.99,670.67 L534.24,668.04 L536.49,665.36 L538.74,662.66 L540.99,659.98 L543.24,657.33 L545.49,654.75 L547.74,652.25 L549.98,649.85 L552.23,647.57 L554.48,645.42 L556.73,643.42 L558.98,641.55 L561.23,639.84 L563.48,638.27 L565.73,636.84 L567.98,635.54 L570.23,634.37 L572.48,633.32 L574.73,632.38 L576.97,631.55 L579.22,630.81 L581.47,630.15 L583.72,629.57 L585.97,629.06 L588.22,628.61 L590.47,628.21 L592.72,627.86 L594.97,627.56 L597.22,627.29 L599.47,627.06 L601.72,626.85 L603.96,626.68 L606.21,626.52 L608.46,626.39 L610.71,626.27 L612.96,626.17 L615.21,626.08 L617.46,626.00 L619.71,625.93 L621.96,625.87 L624.21,625.82 L626.46,625.78 L628.71,625.74 L630.95,625.70 L633.20,625.67 L635.45,625.65 L637.70,625.63 L639.95,625.61 L642.20,625.59" stroke="#000" stroke-width="1.6" fill="none" stroke-linejoin="round" stroke-linecap="round"/>
<path d="M509.50,700.03 L511.75,699.72 L514.00,699.34 L516.25,698.91 L518.50,698.39 L520.75,697.80 L522.99,697.10 L525.24,696.29 L527.49,695.34 L529.74,694.25 L531.99,692.98 L534.24,691.53 L536.49,689.86 L538.74,687.95 L540.99,685.78 L543.24,683.34 L545.49,680.60 L547.74,677.55 L549.98,674.18 L552.23,670.50 L554.48,666.51 L556.73,662.24 L558.98,657.72 L561.23,652.99 L563.48,648.12 L565.73,643.15 L567.98,638.16 L570.23,633.22 L572.48,628.38 L574.73,623.72 L576.97,619.28 L579.22,615.09 L581.47,611.20 L583.72,607.62 L585.97,604.36 L588.22,601.41 L590.47,598.76 L592.72,596.41 L594.97,594.33 L597.22,592.50 L599.47,590.90 L601.72,589.51 L603.96,588.30 L606.21,587.26 L608.46,586.36 L610.71,585.59 L612.96,584.92 L615.21,584.35 L617.46,583.87 L619.71,583.45 L621.96,583.10 L624.21,582.80 L626.46,582.54 L628.71,582.32 L630.95,582.13 L633.20,581.97 L635.45,581.84 L637.70,581.73 L639.95,581.63 L642.20,581.55" stroke="#000" stroke-width="1.6" fill="none" stroke-linejoin="round" stroke-linecap="round"/>
<path d="M509.50,697.73 L511.75,697.29 L514.00,696.79 L516.25,696.24 L518.50,695.63 L520.75,694.96 L522.99,694.23 L525.24,693.42 L527.49,692.53 L529.74,691.56 L531.99,690.50 L534.24,689.35 L536.49,688.10 L538.74,686.76 L540.99,685.32 L543.24,683.78 L545.49,682.14 L547.74,680.40 L549.98,678.56 L552.23,676.64 L554.48,674.64 L556.73,672.56 L558.98,670.43 L561.23,668.24 L563.48,666.02 L565.73,663.78 L567.98,661.53 L570.23,659.29 L572.48,657.07 L574.73,654.90 L576.97,652.77 L579.22,650.70 L581.47,648.71 L583.72,646.81 L585.97,644.99 L588.22,643.26 L590.47,641.64 L592.72,640.11 L594.97,638.68 L597.22,637.36 L599.47,636.13 L601.72,634.99 L603.96,633.95 L606.21,632.99 L608.46,632.12 L610.71,631.32 L612.96,630.59 L615.21,629.93 L617.46,629.33 L619.71,628.79 L621.96,628.30 L624.21,627.86 L626.46,627.47 L628.71,627.11 L630.95,626.79 L633.20,626.50 L635.45,626.24 L637.70,626.01 L639.95,625.80 L642.20,625.62" stroke="#000" stroke-width="1.6" fill="none" stroke-linejoin="round" stroke-linecap="round"/>
<path d="M505.30,699.65 L513.70,699.65 L509.50,692.35 Z" fill="#000"/>
<path d="M523.50,698.65 L531.90,698.65 L527.70,691.35 Z" fill="#000"/>
<path d="M562.00,678.75 L570.40,678.75 L566.20,671.45 Z" fill="#000"/>
<path d="M581.90,641.35 L590.30,641.35 L586.10,634.05 Z" fill="#000"/>
<path d="M599.40,625.25 L607.80,625.25 L603.60,617.95 Z" fill="#000"/>
<path d="M599.40,630.65 L607.80,630.65 L603.60,623.35 Z" fill="#000"/>
<path d="M620.00,630.65 L628.40,630.65 L624.20,623.35 Z" fill="#000"/>
<path d="M638.00,640.95 L646.40,640.95 L642.20,633.65 Z" fill="#000"/>
<circle cx="509.50" cy="696.00" r="3.7" fill="#000"/>
<circle cx="527.70" cy="693.30" r="3.7" fill="#000"/>
<circle cx="547.60" cy="689.60" r="3.7" fill="#000"/>
<circle cx="566.20" cy="633.00" r="3.7" fill="#000"/>
<circle cx="586.10" cy="592.90" r="3.7" fill="#000"/>
<circle cx="603.60" cy="591.00" r="3.7" fill="#000"/>
<circle cx="603.60" cy="628.60" r="3.7" fill="#000"/>
<circle cx="642.20" cy="586.80" r="3.7" fill="#000"/>
<rect x="505.70" y="688.60" width="7.6" height="7.6" fill="#000"/>
<rect x="523.90" y="671.80" width="7.6" height="7.6" fill="#000"/>
<rect x="543.80" y="649.80" width="7.6" height="7.6" fill="#000"/>
<rect x="562.40" y="628.80" width="7.6" height="7.6" fill="#000"/>
<rect x="582.30" y="625.80" width="7.6" height="7.6" fill="#000"/>
<rect x="599.80" y="623.40" width="7.6" height="7.6" fill="#000"/>
<rect x="620.40" y="622.20" width="7.6" height="7.6" fill="#000"/>
<rect x="638.40" y="624.10" width="7.6" height="7.6" fill="#000"/>
<path d="M509.50,920.28 L511.75,918.80 L514.00,917.21 L516.25,915.51 L518.50,913.70 L520.75,911.77 L522.99,909.73 L525.24,907.59 L527.49,905.36 L529.74,903.05 L531.99,900.67 L534.24,898.23 L536.49,895.75 L538.74,893.24 L540.99,890.73 L543.24,888.24 L545.49,885.77 L547.74,883.34 L549.98,880.98 L552.23,878.69 L554.48,876.48 L556.73,874.37 L558.98,872.37 L561.23,870.47 L563.48,868.69 L565.73,867.02 L567.98,865.46 L570.23,864.02 L572.48,862.69 L574.73,861.46 L576.97,860.34 L579.22,859.31 L581.47,858.37 L583.72,857.52 L585.97,856.74 L588.22,856.04 L590.47,855.41 L592.72,854.84 L594.97,854.33 L597.22,853.87 L599.47,853.45 L601.72,853.08 L603.96,852.75 L606.21,852.45 L608.46,852.18 L610.71,851.94 L612.96,851.73 L615.21,851.54 L617.46,851.37 L619.71,851.22 L621.96,851.09 L624.21,850.97 L626.46,850.86 L628.71,850.77 L630.95,850.68 L633.20,850.61 L635.45,850.54 L637.70,850.48 L639.95,850.43 L642.20,850.38" stroke="#000" stroke-width="1.6" fill="none" stroke-linejoin="round" stroke-linecap="round"/>
<path d="M509.50,920.78 L511.75,920.53 L514.00,920.25 L516.25,919.93 L518.50,919.56 L520.75,919.14 L522.99,918.66 L525.24,918.11 L527.49,917.48 L529.74,916.76 L531.99,915.95 L534.24,915.03 L536.49,913.98 L538.74,912.81 L540.99,911.49 L543.24,910.00 L545.49,908.35 L547.74,906.50 L549.98,904.47 L552.23,902.22 L554.48,899.77 L556.73,897.10 L558.98,894.21 L561.23,891.12 L563.48,887.83 L565.73,884.36 L567.98,880.73 L570.23,876.97 L572.48,873.11 L574.73,869.19 L576.97,865.25 L579.22,861.33 L581.47,857.46 L583.72,853.69 L585.97,850.05 L588.22,846.56 L590.47,843.24 L592.72,840.13 L594.97,837.22 L597.22,834.52 L599.47,832.04 L601.72,829.78 L603.96,827.72 L606.21,825.85 L608.46,824.18 L610.71,822.68 L612.96,821.34 L615.21,820.14 L617.46,819.09 L619.71,818.15 L621.96,817.33 L624.21,816.60 L626.46,815.96 L628.71,815.41 L630.95,814.92 L633.20,814.49 L635.45,814.11 L637.70,813.79 L639.95,813.50 L642.20,813.25" stroke="#000" stroke-width="1.6" fill="none" stroke-linejoin="round" stroke-linecap="round"/>
<path d="M509.50,920.75 L511.75,920.58 L514.00,920.39 L516.25,920.18 L518.50,919.93 L520.75,919.66 L522.99,919.35 L525.24,919.00 L527.49,918.61 L529.74,918.18 L531.99,917.69 L534.24,917.14 L536.49,916.53 L538.74,915.86 L540.99,915.11 L543.24,914.29 L545.49,913.38 L547.74,912.39 L549.98,911.32 L552.23,910.15 L554.48,908.90 L556.73,907.55 L558.98,906.12 L561.23,904.61 L563.48,903.03 L565.73,901.38 L567.98,899.68 L570.23,897.94 L572.48,896.17 L574.73,894.38 L576.97,892.60 L579.22,890.84 L581.47,889.10 L583.72,887.42 L585.97,885.79 L588.22,884.22 L590.47,882.73 L592.72,881.33 L594.97,880.01 L597.22,878.78 L599.47,877.63 L601.72,876.58 L603.96,875.61 L606.21,874.73 L608.46,873.93 L610.71,873.20 L612.96,872.55 L615.21,871.95 L617.46,871.42 L619.71,870.95 L621.96,870.53 L624.21,870.15 L626.46,869.81 L628.71,869.51 L630.95,869.25 L633.20,869.01 L635.45,868.80 L637.70,868.62 L639.95,868.46 L642.20,868.31" stroke="#000" stroke-width="1.6" fill="none" stroke-linejoin="round" stroke-linecap="round"/>
<path d="M505.30,923.65 L513.70,923.65 L509.50,916.35 Z" fill="#000"/>
<path d="M523.50,923.25 L531.90,923.25 L527.70,915.95 Z" fill="#000"/>
<path d="M543.40,919.75 L551.80,919.75 L547.60,912.45 Z" fill="#000"/>
<path d="M562.00,915.75 L570.40,915.75 L566.20,908.45 Z" fill="#000"/>
<path d="M581.90,890.55 L590.30,890.55 L586.10,883.25 Z" fill="#000"/>
<path d="M599.40,877.95 L607.80,877.95 L603.60,870.65 Z" fill="#000"/>
<path d="M619.30,873.75 L627.70,873.75 L623.50,866.45 Z" fill="#000"/>
<path d="M638.00,874.85 L646.40,874.85 L642.20,867.55 Z" fill="#000"/>
<circle cx="509.50" cy="919.80" r="3.7" fill="#000"/>
<circle cx="527.70" cy="915.60" r="3.7" fill="#000"/>
<circle cx="547.60" cy="912.10" r="3.7" fill="#000"/>
<circle cx="566.20" cy="893.40" r="3.7" fill="#000"/>
<circle cx="586.10" cy="849.80" r="3.7" fill="#000"/>
<circle cx="603.60" cy="819.90" r="3.7" fill="#000"/>
<circle cx="623.50" cy="817.50" r="3.7" fill="#000"/>
<circle cx="642.20" cy="821.00" r="3.7" fill="#000"/>
<rect x="505.70" y="914.20" width="7.6" height="7.6" fill="#000"/>
<rect x="523.90" y="904.80" width="7.6" height="7.6" fill="#000"/>
<rect x="543.80" y="879.10" width="7.6" height="7.6" fill="#000"/>
<rect x="562.40" y="859.70" width="7.6" height="7.6" fill="#000"/>
<rect x="582.30" y="852.30" width="7.6" height="7.6" fill="#000"/>
<rect x="599.80" y="849.20" width="7.6" height="7.6" fill="#000"/>
<rect x="619.70" y="849.20" width="7.6" height="7.6" fill="#000"/>
<rect x="638.40" y="846.00" width="7.6" height="7.6" fill="#000"/>
</svg>
</body></html>
